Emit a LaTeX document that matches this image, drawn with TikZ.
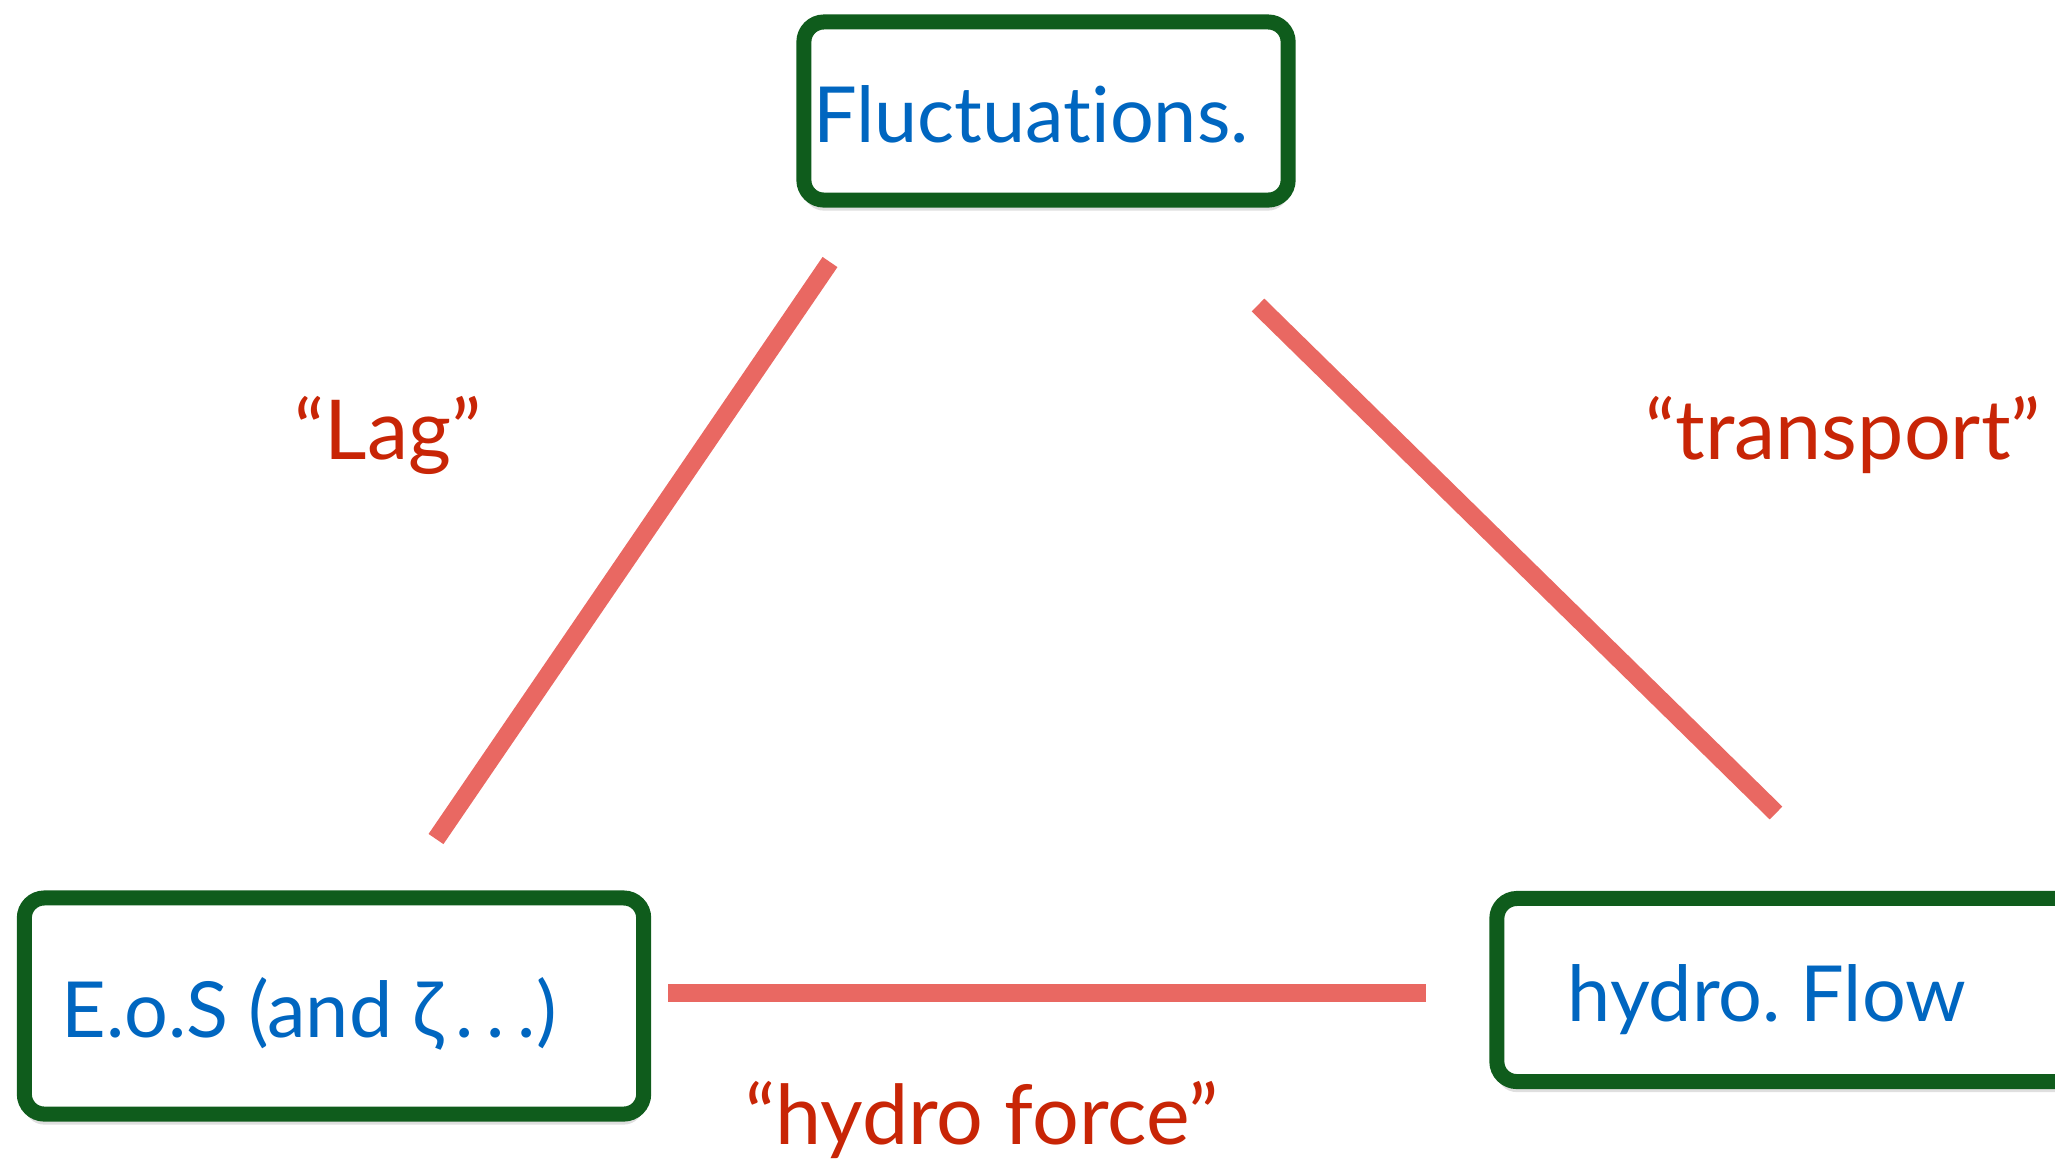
\documentclass[tikz,border=0pt]{standalone}
\usepackage{fontspec}
\setmainfont{Lato}[Ligatures={NoCommon}]
\frenchspacing
\usepackage{tikz}
\usetikzlibrary{shadows}

\definecolor{boxgreen}{HTML}{0F5C1C}
\definecolor{textblue}{HTML}{0066C0}
\definecolor{labelred}{HTML}{C82506}
\definecolor{crayonred}{HTML}{E8605A}

\begin{document}
\begin{tikzpicture}[
    x=0.01cm, y=-0.01cm,
    box/.style={rectangle, draw=boxgreen, line width=0.15cm, fill=white, rounded corners=0.2cm,
        text=textblue, font=\fontsize{22}{26}\selectfont, inner sep=0pt,
        text height=0.62cm, text depth=0cm,
        drop shadow={opacity=0.25, shadow xshift=0pt, shadow yshift=-3pt}},
    tag/.style={text=labelred, font=\fontsize{23.5}{28}\selectfont, anchor=base},
    crayon/.style={draw=crayonred, line width=0.18cm, opacity=0.95}
]
    \useasboundingbox (0,0) rectangle (2055,1162);

    % Boxes
    \node [box, minimum width=4.84cm, minimum height=1.78cm] (fluct) at (1046,111) {\hspace*{-0.3cm}Fluctuations.};
    \node [box, minimum width=6.19cm, minimum height=2.16cm] (eos) at (334,1006) {\hspace*{-0.5cm}E.o.S (and ζ\,.\,.\,.)};
    \node [box, minimum width=5.80cm, minimum height=1.83cm] (flow) at (1787,990) {\hspace*{-0.4cm}hydro. Flow};

    % Line ends
    \coordinate (lagA) at (436,839);
    \coordinate (lagB) at (830,262);
    \coordinate (trA) at (1258,305);
    \coordinate (trB) at (1776,813);
    \coordinate (hfA) at (668,993);
    \coordinate (hfB) at (1426,993);

    % Lines
    \path [crayon] (lagA) -- (lagB);
    \path [crayon] (trA) -- (trB);
    \path [crayon] (hfA) -- (hfB);

    % Labels
    \node [tag] (lag) at (388,459) {“Lag”};
    \node [tag] (transport) at (1843,459) {“transport”};
    \node [tag] (force) at (982,1144) {“hydro force”};

\end{tikzpicture}
\end{document}
